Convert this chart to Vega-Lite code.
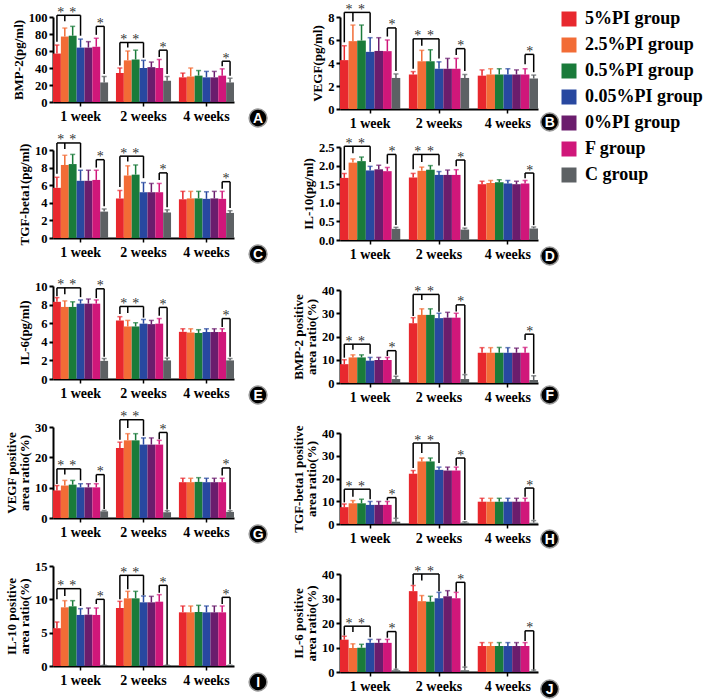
{
"$schema": "https://vega.github.io/schema/vega-lite/v6.json",
"padding": {"left": 5, "top": 2, "right": 2, "bottom": 2},
"datasets": {"d": [
{"p":"A","k":"b","s":"1-1","g":"5%PI group","m":57,"e":67},
{"p":"A","k":"b","s":"1-2","g":"2.5%PI group","m":77,"e":87},
{"p":"A","k":"b","s":"1-3","g":"0.5%PI group","m":78,"e":89},
{"p":"A","k":"b","s":"1-4","g":"0.05%PI group","m":64,"e":74},
{"p":"A","k":"b","s":"1-5","g":"0%PI group","m":64,"e":71},
{"p":"A","k":"b","s":"1-6","g":"F group","m":65,"e":75},
{"p":"A","k":"b","s":"1-7","g":"C group","m":23,"e":30},
{"p":"A","k":"b","s":"2-1","g":"5%PI group","m":34,"e":40},
{"p":"A","k":"b","s":"2-2","g":"2.5%PI group","m":49,"e":60},
{"p":"A","k":"b","s":"2-3","g":"0.5%PI group","m":50,"e":61},
{"p":"A","k":"b","s":"2-4","g":"0.05%PI group","m":40,"e":49},
{"p":"A","k":"b","s":"2-5","g":"0%PI group","m":41,"e":47},
{"p":"A","k":"b","s":"2-6","g":"F group","m":40,"e":50},
{"p":"A","k":"b","s":"2-7","g":"C group","m":25,"e":30},
{"p":"A","k":"b","s":"4-1","g":"5%PI group","m":29,"e":34},
{"p":"A","k":"b","s":"4-2","g":"2.5%PI group","m":30,"e":40},
{"p":"A","k":"b","s":"4-3","g":"0.5%PI group","m":31,"e":37},
{"p":"A","k":"b","s":"4-4","g":"0.05%PI group","m":29,"e":36},
{"p":"A","k":"b","s":"4-5","g":"0%PI group","m":29,"e":36},
{"p":"A","k":"b","s":"4-6","g":"F group","m":31,"e":39},
{"p":"A","k":"b","s":"4-7","g":"C group","m":23,"e":28},
{"p":"A","k":"h","s":"1-1","s2":"1-4","m":102},
{"p":"A","k":"h","s":"1-6","s2":"1-7","m":89},
{"p":"A","k":"h","s":"2-1","s2":"2-4","m":70},
{"p":"A","k":"h","s":"2-6","s2":"2-7","m":61},
{"p":"A","k":"h","s":"4-6","s2":"4-7","m":48},
{"p":"A","k":"v","s":"1-1","m":71,"e":102},
{"p":"A","k":"v","s":"1-2","m":95,"e":102},
{"p":"A","k":"v","s":"1-4","m":78,"e":102},
{"p":"A","k":"v","s":"1-6","m":79,"e":89},
{"p":"A","k":"v","s":"1-7","m":33,"e":89},
{"p":"A","k":"v","s":"2-1","m":43,"e":70},
{"p":"A","k":"v","s":"2-2","m":64,"e":70},
{"p":"A","k":"v","s":"2-4","m":52,"e":70},
{"p":"A","k":"v","s":"2-6","m":53,"e":61},
{"p":"A","k":"v","s":"2-7","m":33,"e":61},
{"p":"A","k":"v","s":"4-6","m":42,"e":48},
{"p":"A","k":"v","s":"4-7","m":31,"e":48},
{"p":"A","k":"sh","s":"1-2","m":102},
{"p":"A","k":"sc","s":"1-3","m":102},
{"p":"A","k":"sh","s":"1-7","m":89},
{"p":"A","k":"sh","s":"2-2","m":70},
{"p":"A","k":"sc","s":"2-3","m":70},
{"p":"A","k":"sh","s":"2-7","m":61},
{"p":"A","k":"sh","s":"4-7","m":48},
{"p":"A","k":"L","t":"A"},

{"p":"B","k":"b","s":"1-1","g":"5%PI group","m":4.25,"e":5.5},
{"p":"B","k":"b","s":"1-2","g":"2.5%PI group","m":5.9,"e":7.3},
{"p":"B","k":"b","s":"1-3","g":"0.5%PI group","m":5.95,"e":7.3},
{"p":"B","k":"b","s":"1-4","g":"0.05%PI group","m":4.97,"e":6.2},
{"p":"B","k":"b","s":"1-5","g":"0%PI group","m":5.05,"e":6.2},
{"p":"B","k":"b","s":"1-6","g":"F group","m":5.03,"e":6.0},
{"p":"B","k":"b","s":"1-7","g":"C group","m":2.7,"e":3.05},
{"p":"B","k":"b","s":"2-1","g":"5%PI group","m":3.0,"e":3.25},
{"p":"B","k":"b","s":"2-2","g":"2.5%PI group","m":4.15,"e":5.1},
{"p":"B","k":"b","s":"2-3","g":"0.5%PI group","m":4.15,"e":5.15},
{"p":"B","k":"b","s":"2-4","g":"0.05%PI group","m":3.5,"e":4.1},
{"p":"B","k":"b","s":"2-5","g":"0%PI group","m":3.5,"e":4.4},
{"p":"B","k":"b","s":"2-6","g":"F group","m":3.5,"e":4.4},
{"p":"B","k":"b","s":"2-7","g":"C group","m":2.7,"e":3.0},
{"p":"B","k":"b","s":"4-1","g":"5%PI group","m":2.9,"e":3.4},
{"p":"B","k":"b","s":"4-2","g":"2.5%PI group","m":3.0,"e":3.5},
{"p":"B","k":"b","s":"4-3","g":"0.5%PI group","m":3.0,"e":3.5},
{"p":"B","k":"b","s":"4-4","g":"0.05%PI group","m":3.0,"e":3.5},
{"p":"B","k":"b","s":"4-5","g":"0%PI group","m":3.0,"e":3.4},
{"p":"B","k":"b","s":"4-6","g":"F group","m":3.0,"e":3.5},
{"p":"B","k":"b","s":"4-7","g":"C group","m":2.65,"e":2.95},
{"p":"B","k":"h","s":"1-1","s2":"1-4","m":8.4},
{"p":"B","k":"h","s":"1-6","s2":"1-7","m":7.05},
{"p":"B","k":"h","s":"2-1","s2":"2-4","m":6.1},
{"p":"B","k":"h","s":"2-6","s2":"2-7","m":5.25},
{"p":"B","k":"h","s":"4-6","s2":"4-7","m":4.75},
{"p":"B","k":"v","s":"1-1","m":5.8,"e":8.4},
{"p":"B","k":"v","s":"1-2","m":7.6,"e":8.4},
{"p":"B","k":"v","s":"1-4","m":6.6,"e":8.4},
{"p":"B","k":"v","s":"1-6","m":6.3,"e":7.05},
{"p":"B","k":"v","s":"1-7","m":3.3,"e":7.05},
{"p":"B","k":"v","s":"2-1","m":3.5,"e":6.1},
{"p":"B","k":"v","s":"2-2","m":5.5,"e":6.1},
{"p":"B","k":"v","s":"2-4","m":4.4,"e":6.1},
{"p":"B","k":"v","s":"2-6","m":4.7,"e":5.25},
{"p":"B","k":"v","s":"2-7","m":3.3,"e":5.25},
{"p":"B","k":"v","s":"4-6","m":3.9,"e":4.75},
{"p":"B","k":"v","s":"4-7","m":3.2,"e":4.75},
{"p":"B","k":"sh","s":"1-2","m":8.4},
{"p":"B","k":"sc","s":"1-3","m":8.4},
{"p":"B","k":"sh","s":"1-7","m":7.05},
{"p":"B","k":"sh","s":"2-2","m":6.1},
{"p":"B","k":"sc","s":"2-3","m":6.1},
{"p":"B","k":"sh","s":"2-7","m":5.25},
{"p":"B","k":"sh","s":"4-7","m":4.75},
{"p":"B","k":"L","t":"B"},

{"p":"C","k":"b","s":"1-1","g":"5%PI group","m":5.7,"e":6.9},
{"p":"C","k":"b","s":"1-2","g":"2.5%PI group","m":8.3,"e":9.4},
{"p":"C","k":"b","s":"1-3","g":"0.5%PI group","m":8.4,"e":9.5},
{"p":"C","k":"b","s":"1-4","g":"0.05%PI group","m":6.5,"e":7.7},
{"p":"C","k":"b","s":"1-5","g":"0%PI group","m":6.5,"e":7.7},
{"p":"C","k":"b","s":"1-6","g":"F group","m":6.6,"e":7.7},
{"p":"C","k":"b","s":"1-7","g":"C group","m":3.0,"e":3.3},
{"p":"C","k":"b","s":"2-1","g":"5%PI group","m":4.5,"e":5.4},
{"p":"C","k":"b","s":"2-2","g":"2.5%PI group","m":7.1,"e":8.2},
{"p":"C","k":"b","s":"2-3","g":"0.5%PI group","m":7.2,"e":8.3},
{"p":"C","k":"b","s":"2-4","g":"0.05%PI group","m":5.2,"e":6.3},
{"p":"C","k":"b","s":"2-5","g":"0%PI group","m":5.2,"e":6.2},
{"p":"C","k":"b","s":"2-6","g":"F group","m":5.2,"e":6.2},
{"p":"C","k":"b","s":"2-7","g":"C group","m":2.9,"e":3.2},
{"p":"C","k":"b","s":"4-1","g":"5%PI group","m":4.4,"e":5.3},
{"p":"C","k":"b","s":"4-2","g":"2.5%PI group","m":4.5,"e":5.3},
{"p":"C","k":"b","s":"4-3","g":"0.5%PI group","m":4.5,"e":5.3},
{"p":"C","k":"b","s":"4-4","g":"0.05%PI group","m":4.45,"e":5.25},
{"p":"C","k":"b","s":"4-5","g":"0%PI group","m":4.5,"e":5.3},
{"p":"C","k":"b","s":"4-6","g":"F group","m":4.45,"e":5.3},
{"p":"C","k":"b","s":"4-7","g":"C group","m":2.85,"e":3.1},
{"p":"C","k":"h","s":"1-1","s2":"1-4","m":10.8},
{"p":"C","k":"h","s":"1-6","s2":"1-7","m":8.9},
{"p":"C","k":"h","s":"2-1","s2":"2-4","m":9.3},
{"p":"C","k":"h","s":"2-6","s2":"2-7","m":7.4},
{"p":"C","k":"h","s":"4-6","s2":"4-7","m":6.4},
{"p":"C","k":"v","s":"1-1","m":7.3,"e":10.8},
{"p":"C","k":"v","s":"1-2","m":10.1,"e":10.8},
{"p":"C","k":"v","s":"1-4","m":8.0,"e":10.8},
{"p":"C","k":"v","s":"1-6","m":8.0,"e":8.9},
{"p":"C","k":"v","s":"1-7","m":3.6,"e":8.9},
{"p":"C","k":"v","s":"2-1","m":5.8,"e":9.3},
{"p":"C","k":"v","s":"2-2","m":8.7,"e":9.3},
{"p":"C","k":"v","s":"2-4","m":6.8,"e":9.3},
{"p":"C","k":"v","s":"2-6","m":6.6,"e":7.4},
{"p":"C","k":"v","s":"2-7","m":3.5,"e":7.4},
{"p":"C","k":"v","s":"4-6","m":5.6,"e":6.4},
{"p":"C","k":"v","s":"4-7","m":3.4,"e":6.4},
{"p":"C","k":"sh","s":"1-2","m":10.8},
{"p":"C","k":"sc","s":"1-3","m":10.8},
{"p":"C","k":"sh","s":"1-7","m":8.9},
{"p":"C","k":"sh","s":"2-2","m":9.3},
{"p":"C","k":"sc","s":"2-3","m":9.3},
{"p":"C","k":"sh","s":"2-7","m":7.4},
{"p":"C","k":"sh","s":"4-7","m":6.4},
{"p":"C","k":"L","t":"C"},

{"p":"D","k":"b","s":"1-1","g":"5%PI group","m":1.67,"e":1.79},
{"p":"D","k":"b","s":"1-2","g":"2.5%PI group","m":2.08,"e":2.18},
{"p":"D","k":"b","s":"1-3","g":"0.5%PI group","m":2.12,"e":2.23},
{"p":"D","k":"b","s":"1-4","g":"0.05%PI group","m":1.87,"e":1.98},
{"p":"D","k":"b","s":"1-5","g":"0%PI group","m":1.9,"e":2.01},
{"p":"D","k":"b","s":"1-6","g":"F group","m":1.85,"e":1.95},
{"p":"D","k":"b","s":"1-7","g":"C group","m":0.3,"e":0.34},
{"p":"D","k":"b","s":"2-1","g":"5%PI group","m":1.68,"e":1.79},
{"p":"D","k":"b","s":"2-2","g":"2.5%PI group","m":1.86,"e":1.96},
{"p":"D","k":"b","s":"2-3","g":"0.5%PI group","m":1.89,"e":2.0},
{"p":"D","k":"b","s":"2-4","g":"0.05%PI group","m":1.75,"e":1.84},
{"p":"D","k":"b","s":"2-5","g":"0%PI group","m":1.75,"e":1.88},
{"p":"D","k":"b","s":"2-6","g":"F group","m":1.75,"e":1.89},
{"p":"D","k":"b","s":"2-7","g":"C group","m":0.28,"e":0.32},
{"p":"D","k":"b","s":"4-1","g":"5%PI group","m":1.5,"e":1.58},
{"p":"D","k":"b","s":"4-2","g":"2.5%PI group","m":1.53,"e":1.6},
{"p":"D","k":"b","s":"4-3","g":"0.5%PI group","m":1.55,"e":1.62},
{"p":"D","k":"b","s":"4-4","g":"0.05%PI group","m":1.52,"e":1.6},
{"p":"D","k":"b","s":"4-5","g":"0%PI group","m":1.5,"e":1.58},
{"p":"D","k":"b","s":"4-6","g":"F group","m":1.52,"e":1.6},
{"p":"D","k":"b","s":"4-7","g":"C group","m":0.31,"e":0.35},
{"p":"D","k":"h","s":"1-1","s2":"1-4","m":2.52},
{"p":"D","k":"h","s":"1-6","s2":"1-7","m":2.3},
{"p":"D","k":"h","s":"2-1","s2":"2-4","m":2.3},
{"p":"D","k":"h","s":"2-6","s2":"2-7","m":2.15},
{"p":"D","k":"h","s":"4-6","s2":"4-7","m":1.8},
{"p":"D","k":"v","s":"1-1","m":1.88,"e":2.52},
{"p":"D","k":"v","s":"1-2","m":2.33,"e":2.52},
{"p":"D","k":"v","s":"1-4","m":2.1,"e":2.52},
{"p":"D","k":"v","s":"1-6","m":2.05,"e":2.3},
{"p":"D","k":"v","s":"1-7","m":0.4,"e":2.3},
{"p":"D","k":"v","s":"2-1","m":1.9,"e":2.3},
{"p":"D","k":"v","s":"2-2","m":2.1,"e":2.3},
{"p":"D","k":"v","s":"2-4","m":2.0,"e":2.3},
{"p":"D","k":"v","s":"2-6","m":1.98,"e":2.15},
{"p":"D","k":"v","s":"2-7","m":0.38,"e":2.15},
{"p":"D","k":"v","s":"4-6","m":1.66,"e":1.8},
{"p":"D","k":"v","s":"4-7","m":0.4,"e":1.8},
{"p":"D","k":"sh","s":"1-2","m":2.52},
{"p":"D","k":"sc","s":"1-3","m":2.52},
{"p":"D","k":"sh","s":"1-7","m":2.3},
{"p":"D","k":"sh","s":"2-2","m":2.3},
{"p":"D","k":"sc","s":"2-3","m":2.3},
{"p":"D","k":"sh","s":"2-7","m":2.15},
{"p":"D","k":"sh","s":"4-7","m":1.8},
{"p":"D","k":"L","t":"D"},

{"p":"E","k":"b","s":"1-1","g":"5%PI group","m":8.3,"e":8.75},
{"p":"E","k":"b","s":"1-2","g":"2.5%PI group","m":7.75,"e":8.4},
{"p":"E","k":"b","s":"1-3","g":"0.5%PI group","m":7.75,"e":8.3},
{"p":"E","k":"b","s":"1-4","g":"0.05%PI group","m":8.1,"e":8.5},
{"p":"E","k":"b","s":"1-5","g":"0%PI group","m":8.1,"e":8.6},
{"p":"E","k":"b","s":"1-6","g":"F group","m":8.1,"e":8.5},
{"p":"E","k":"b","s":"1-7","g":"C group","m":1.95,"e":2.2},
{"p":"E","k":"b","s":"2-1","g":"5%PI group","m":6.3,"e":6.7},
{"p":"E","k":"b","s":"2-2","g":"2.5%PI group","m":5.65,"e":6.3},
{"p":"E","k":"b","s":"2-3","g":"0.5%PI group","m":5.65,"e":6.05},
{"p":"E","k":"b","s":"2-4","g":"0.05%PI group","m":5.95,"e":6.4},
{"p":"E","k":"b","s":"2-5","g":"0%PI group","m":5.9,"e":6.3},
{"p":"E","k":"b","s":"2-6","g":"F group","m":5.95,"e":6.5},
{"p":"E","k":"b","s":"2-7","g":"C group","m":2.0,"e":2.25},
{"p":"E","k":"b","s":"4-1","g":"5%PI group","m":5.07,"e":5.4},
{"p":"E","k":"b","s":"4-2","g":"2.5%PI group","m":5.0,"e":5.4},
{"p":"E","k":"b","s":"4-3","g":"0.5%PI group","m":4.95,"e":5.3},
{"p":"E","k":"b","s":"4-4","g":"0.05%PI group","m":5.05,"e":5.4},
{"p":"E","k":"b","s":"4-5","g":"0%PI group","m":5.05,"e":5.4},
{"p":"E","k":"b","s":"4-6","g":"F group","m":5.05,"e":5.4},
{"p":"E","k":"b","s":"4-7","g":"C group","m":2.0,"e":2.2},
{"p":"E","k":"h","s":"1-1","s2":"1-4","m":9.8},
{"p":"E","k":"h","s":"1-6","s2":"1-7","m":9.7},
{"p":"E","k":"h","s":"2-1","s2":"2-4","m":7.8},
{"p":"E","k":"h","s":"2-6","s2":"2-7","m":7.7},
{"p":"E","k":"h","s":"4-6","s2":"4-7","m":6.5},
{"p":"E","k":"v","s":"1-1","m":8.9,"e":9.8},
{"p":"E","k":"v","s":"1-2","m":9.1,"e":9.8},
{"p":"E","k":"v","s":"1-4","m":8.8,"e":9.8},
{"p":"E","k":"v","s":"1-6","m":8.7,"e":9.7},
{"p":"E","k":"v","s":"1-7","m":2.4,"e":9.7},
{"p":"E","k":"v","s":"2-1","m":7.0,"e":7.8},
{"p":"E","k":"v","s":"2-2","m":7.1,"e":7.8},
{"p":"E","k":"v","s":"2-4","m":6.6,"e":7.8},
{"p":"E","k":"v","s":"2-6","m":6.8,"e":7.7},
{"p":"E","k":"v","s":"2-7","m":2.4,"e":7.7},
{"p":"E","k":"v","s":"4-6","m":5.6,"e":6.5},
{"p":"E","k":"v","s":"4-7","m":2.4,"e":6.5},
{"p":"E","k":"sh","s":"1-2","m":9.8},
{"p":"E","k":"sc","s":"1-3","m":9.8},
{"p":"E","k":"sh","s":"1-7","m":9.7},
{"p":"E","k":"sh","s":"2-2","m":7.8},
{"p":"E","k":"sc","s":"2-3","m":7.8},
{"p":"E","k":"sh","s":"2-7","m":7.7},
{"p":"E","k":"sh","s":"4-7","m":6.5},
{"p":"E","k":"L","t":"E"},

{"p":"F","k":"b","s":"1-1","g":"5%PI group","m":8.1,"e":10},
{"p":"F","k":"b","s":"1-2","g":"2.5%PI group","m":11,"e":12.1},
{"p":"F","k":"b","s":"1-3","g":"0.5%PI group","m":11,"e":12.1},
{"p":"F","k":"b","s":"1-4","g":"0.05%PI group","m":9.6,"e":11},
{"p":"F","k":"b","s":"1-5","g":"0%PI group","m":9.9,"e":11},
{"p":"F","k":"b","s":"1-6","g":"F group","m":9.9,"e":11},
{"p":"F","k":"b","s":"1-7","g":"C group","m":1.7,"e":2.9},
{"p":"F","k":"b","s":"2-1","g":"5%PI group","m":25.7,"e":28.1},
{"p":"F","k":"b","s":"2-2","g":"2.5%PI group","m":29.3,"e":31.9},
{"p":"F","k":"b","s":"2-3","g":"0.5%PI group","m":29.3,"e":31.9},
{"p":"F","k":"b","s":"2-4","g":"0.05%PI group","m":27.9,"e":30},
{"p":"F","k":"b","s":"2-5","g":"0%PI group","m":28.1,"e":30.4},
{"p":"F","k":"b","s":"2-6","g":"F group","m":28.1,"e":30},
{"p":"F","k":"b","s":"2-7","g":"C group","m":1.7,"e":3.6},
{"p":"F","k":"b","s":"4-1","g":"5%PI group","m":13,"e":15.2},
{"p":"F","k":"b","s":"4-2","g":"2.5%PI group","m":13,"e":15.2},
{"p":"F","k":"b","s":"4-3","g":"0.5%PI group","m":13,"e":15.3},
{"p":"F","k":"b","s":"4-4","g":"0.05%PI group","m":13,"e":15.2},
{"p":"F","k":"b","s":"4-5","g":"0%PI group","m":13,"e":15},
{"p":"F","k":"b","s":"4-6","g":"F group","m":13,"e":15.3},
{"p":"F","k":"b","s":"4-7","g":"C group","m":1.3,"e":3.1},
{"p":"F","k":"h","s":"1-1","s2":"1-4","m":16.7},
{"p":"F","k":"h","s":"1-6","s2":"1-7","m":13.9},
{"p":"F","k":"h","s":"2-1","s2":"2-4","m":38.1},
{"p":"F","k":"h","s":"2-6","s2":"2-7","m":33.6},
{"p":"F","k":"h","s":"4-6","s2":"4-7","m":21},
{"p":"F","k":"v","s":"1-1","m":10.9,"e":16.7},
{"p":"F","k":"v","s":"1-2","m":14.3,"e":16.7},
{"p":"F","k":"v","s":"1-4","m":12.6,"e":16.7},
{"p":"F","k":"v","s":"1-6","m":11.6,"e":13.9},
{"p":"F","k":"v","s":"1-7","m":3.5,"e":13.9},
{"p":"F","k":"v","s":"2-1","m":28.8,"e":38.1},
{"p":"F","k":"v","s":"2-2","m":35.7,"e":38.1},
{"p":"F","k":"v","s":"2-4","m":30.6,"e":38.1},
{"p":"F","k":"v","s":"2-6","m":30.8,"e":33.6},
{"p":"F","k":"v","s":"2-7","m":4.0,"e":33.6},
{"p":"F","k":"v","s":"4-6","m":18.5,"e":21},
{"p":"F","k":"v","s":"4-7","m":4.0,"e":21},
{"p":"F","k":"sh","s":"1-2","m":16.7},
{"p":"F","k":"sc","s":"1-3","m":16.7},
{"p":"F","k":"sh","s":"1-7","m":13.9},
{"p":"F","k":"sh","s":"2-2","m":38.1},
{"p":"F","k":"sc","s":"2-3","m":38.1},
{"p":"F","k":"sh","s":"2-7","m":33.6},
{"p":"F","k":"sh","s":"4-7","m":21},
{"p":"F","k":"L","t":"F"},

{"p":"G","k":"b","s":"1-1","g":"5%PI group","m":9.1,"e":10.7},
{"p":"G","k":"b","s":"1-2","g":"2.5%PI group","m":10.7,"e":12.4},
{"p":"G","k":"b","s":"1-3","g":"0.5%PI group","m":11,"e":12.4},
{"p":"G","k":"b","s":"1-4","g":"0.05%PI group","m":10.1,"e":11.3},
{"p":"G","k":"b","s":"1-5","g":"0%PI group","m":10.1,"e":11.3},
{"p":"G","k":"b","s":"1-6","g":"F group","m":10.1,"e":11.3},
{"p":"G","k":"b","s":"1-7","g":"C group","m":2.2,"e":2.5},
{"p":"G","k":"b","s":"2-1","g":"5%PI group","m":23.1,"e":25},
{"p":"G","k":"b","s":"2-2","g":"2.5%PI group","m":25.6,"e":27.8},
{"p":"G","k":"b","s":"2-3","g":"0.5%PI group","m":25.6,"e":27.8},
{"p":"G","k":"b","s":"2-4","g":"0.05%PI group","m":24.2,"e":26.4},
{"p":"G","k":"b","s":"2-5","g":"0%PI group","m":24.2,"e":26.4},
{"p":"G","k":"b","s":"2-6","g":"F group","m":24.2,"e":25.6},
{"p":"G","k":"b","s":"2-7","g":"C group","m":1.9,"e":2.4},
{"p":"G","k":"b","s":"4-1","g":"5%PI group","m":11.8,"e":13.1},
{"p":"G","k":"b","s":"4-2","g":"2.5%PI group","m":11.8,"e":13.1},
{"p":"G","k":"b","s":"4-3","g":"0.5%PI group","m":11.9,"e":13.3},
{"p":"G","k":"b","s":"4-4","g":"0.05%PI group","m":11.8,"e":13.1},
{"p":"G","k":"b","s":"4-5","g":"0%PI group","m":11.8,"e":13.1},
{"p":"G","k":"b","s":"4-6","g":"F group","m":11.8,"e":13.1},
{"p":"G","k":"b","s":"4-7","g":"C group","m":2.0,"e":2.4},
{"p":"G","k":"h","s":"1-1","s2":"1-4","m":16.2},
{"p":"G","k":"h","s":"1-6","s2":"1-7","m":14.3},
{"p":"G","k":"h","s":"2-1","s2":"2-4","m":32.4},
{"p":"G","k":"h","s":"2-6","s2":"2-7","m":28.2},
{"p":"G","k":"h","s":"4-6","s2":"4-7","m":16.5},
{"p":"G","k":"v","s":"1-1","m":11.2,"e":16.2},
{"p":"G","k":"v","s":"1-2","m":14.3,"e":16.2},
{"p":"G","k":"v","s":"1-4","m":12.4,"e":16.2},
{"p":"G","k":"v","s":"1-6","m":11.8,"e":14.3},
{"p":"G","k":"v","s":"1-7","m":3.0,"e":14.3},
{"p":"G","k":"v","s":"2-1","m":25.8,"e":32.4},
{"p":"G","k":"v","s":"2-2","m":29.7,"e":32.4},
{"p":"G","k":"v","s":"2-4","m":27.1,"e":32.4},
{"p":"G","k":"v","s":"2-6","m":26,"e":28.2},
{"p":"G","k":"v","s":"2-7","m":2.8,"e":28.2},
{"p":"G","k":"v","s":"4-6","m":14,"e":16.5},
{"p":"G","k":"v","s":"4-7","m":2.8,"e":16.5},
{"p":"G","k":"sh","s":"1-2","m":16.2},
{"p":"G","k":"sc","s":"1-3","m":16.2},
{"p":"G","k":"sh","s":"1-7","m":14.3},
{"p":"G","k":"sh","s":"2-2","m":32.4},
{"p":"G","k":"sc","s":"2-3","m":32.4},
{"p":"G","k":"sh","s":"2-7","m":28.2},
{"p":"G","k":"sh","s":"4-7","m":16.5},
{"p":"G","k":"L","t":"G"},

{"p":"H","k":"b","s":"1-1","g":"5%PI group","m":7.4,"e":8.8},
{"p":"H","k":"b","s":"1-2","g":"2.5%PI group","m":9.1,"e":10.3},
{"p":"H","k":"b","s":"1-3","g":"0.5%PI group","m":9.1,"e":10.9},
{"p":"H","k":"b","s":"1-4","g":"0.05%PI group","m":8.4,"e":9.9},
{"p":"H","k":"b","s":"1-5","g":"0%PI group","m":8.4,"e":9.9},
{"p":"H","k":"b","s":"1-6","g":"F group","m":8.4,"e":9.9},
{"p":"H","k":"b","s":"1-7","g":"C group","m":1.0,"e":2.5},
{"p":"H","k":"b","s":"2-1","g":"5%PI group","m":22.1,"e":23.5},
{"p":"H","k":"b","s":"2-2","g":"2.5%PI group","m":27.5,"e":29},
{"p":"H","k":"b","s":"2-3","g":"0.5%PI group","m":27.5,"e":29},
{"p":"H","k":"b","s":"2-4","g":"0.05%PI group","m":23.8,"e":25},
{"p":"H","k":"b","s":"2-5","g":"0%PI group","m":23.5,"e":25},
{"p":"H","k":"b","s":"2-6","g":"F group","m":23.5,"e":25},
{"p":"H","k":"b","s":"2-7","g":"C group","m":0.6,"e":1.0},
{"p":"H","k":"b","s":"4-1","g":"5%PI group","m":9.8,"e":11.3},
{"p":"H","k":"b","s":"4-2","g":"2.5%PI group","m":9.8,"e":11.3},
{"p":"H","k":"b","s":"4-3","g":"0.5%PI group","m":9.8,"e":11.3},
{"p":"H","k":"b","s":"4-4","g":"0.05%PI group","m":9.8,"e":11.3},
{"p":"H","k":"b","s":"4-5","g":"0%PI group","m":9.8,"e":11.3},
{"p":"H","k":"b","s":"4-6","g":"F group","m":9.8,"e":11.3},
{"p":"H","k":"b","s":"4-7","g":"C group","m":0.6,"e":1.5},
{"p":"H","k":"h","s":"1-1","s2":"1-4","m":15.3},
{"p":"H","k":"h","s":"1-6","s2":"1-7","m":11.6},
{"p":"H","k":"h","s":"2-1","s2":"2-4","m":35.6},
{"p":"H","k":"h","s":"2-6","s2":"2-7","m":29},
{"p":"H","k":"h","s":"4-6","s2":"4-7","m":15.8},
{"p":"H","k":"v","s":"1-1","m":9.5,"e":15.3},
{"p":"H","k":"v","s":"1-2","m":12,"e":15.3},
{"p":"H","k":"v","s":"1-4","m":10.9,"e":15.3},
{"p":"H","k":"v","s":"1-6","m":10.4,"e":11.6},
{"p":"H","k":"v","s":"1-7","m":2.8,"e":11.6},
{"p":"H","k":"v","s":"2-1","m":24.6,"e":35.6},
{"p":"H","k":"v","s":"2-2","m":31.2,"e":35.6},
{"p":"H","k":"v","s":"2-4","m":26.8,"e":35.6},
{"p":"H","k":"v","s":"2-6","m":25.6,"e":29},
{"p":"H","k":"v","s":"2-7","m":1.8,"e":29},
{"p":"H","k":"v","s":"4-6","m":12,"e":15.8},
{"p":"H","k":"v","s":"4-7","m":1.9,"e":15.8},
{"p":"H","k":"sh","s":"1-2","m":15.3},
{"p":"H","k":"sc","s":"1-3","m":15.3},
{"p":"H","k":"sh","s":"1-7","m":11.6},
{"p":"H","k":"sh","s":"2-2","m":35.6},
{"p":"H","k":"sc","s":"2-3","m":35.6},
{"p":"H","k":"sh","s":"2-7","m":29},
{"p":"H","k":"sh","s":"4-7","m":15.8},
{"p":"H","k":"L","t":"H"},

{"p":"I","k":"b","s":"1-1","g":"5%PI group","m":5.67,"e":6.6},
{"p":"I","k":"b","s":"1-2","g":"2.5%PI group","m":8.8,"e":9.8},
{"p":"I","k":"b","s":"1-3","g":"0.5%PI group","m":8.95,"e":9.8},
{"p":"I","k":"b","s":"1-4","g":"0.05%PI group","m":7.66,"e":8.6},
{"p":"I","k":"b","s":"1-5","g":"0%PI group","m":7.7,"e":8.7},
{"p":"I","k":"b","s":"1-6","g":"F group","m":7.66,"e":8.7},
{"p":"I","k":"b","s":"1-7","g":"C group","m":0.1,"e":0.12},
{"p":"I","k":"b","s":"2-1","g":"5%PI group","m":8.7,"e":9.7},
{"p":"I","k":"b","s":"2-2","g":"2.5%PI group","m":10.15,"e":11.2},
{"p":"I","k":"b","s":"2-3","g":"0.5%PI group","m":10.15,"e":11.2},
{"p":"I","k":"b","s":"2-4","g":"0.05%PI group","m":9.55,"e":10.5},
{"p":"I","k":"b","s":"2-5","g":"0%PI group","m":9.55,"e":10.45},
{"p":"I","k":"b","s":"2-6","g":"F group","m":9.65,"e":10.7},
{"p":"I","k":"b","s":"2-7","g":"C group","m":0.1,"e":0.12},
{"p":"I","k":"b","s":"4-1","g":"5%PI group","m":8.05,"e":9.0},
{"p":"I","k":"b","s":"4-2","g":"2.5%PI group","m":8.05,"e":9.0},
{"p":"I","k":"b","s":"4-3","g":"0.5%PI group","m":8.1,"e":9.1},
{"p":"I","k":"b","s":"4-4","g":"0.05%PI group","m":8.05,"e":9.0},
{"p":"I","k":"b","s":"4-5","g":"0%PI group","m":8.05,"e":9.0},
{"p":"I","k":"b","s":"4-6","g":"F group","m":8.05,"e":9.0},
{"p":"I","k":"b","s":"4-7","g":"C group","m":0.1,"e":0.12},
{"p":"I","k":"h","s":"1-1","s2":"1-4","m":11.6},
{"p":"I","k":"h","s":"1-6","s2":"1-7","m":10.0},
{"p":"I","k":"h","s":"2-1","s2":"2-4","m":13.6},
{"p":"I","k":"h","s":"2-6","s2":"2-7","m":12.1},
{"p":"I","k":"h","s":"4-6","s2":"4-7","m":10.3},
{"p":"I","k":"v","s":"1-1","m":10.0,"e":11.6},
{"p":"I","k":"v","s":"1-2","m":10.5,"e":11.6},
{"p":"I","k":"v","s":"1-4","m":9.0,"e":11.6},
{"p":"I","k":"v","s":"1-6","m":9.3,"e":10.0},
{"p":"I","k":"v","s":"1-7","m":0.2,"e":10.0},
{"p":"I","k":"v","s":"2-1","m":10.0,"e":13.6},
{"p":"I","k":"v","s":"2-2","m":11.5,"e":13.6},
{"p":"I","k":"v","s":"2-4","m":10.6,"e":13.6},
{"p":"I","k":"v","s":"2-6","m":11.0,"e":12.1},
{"p":"I","k":"v","s":"2-7","m":0.2,"e":12.1},
{"p":"I","k":"v","s":"4-6","m":9.3,"e":10.3},
{"p":"I","k":"v","s":"4-7","m":0.3,"e":10.3},
{"p":"I","k":"sh","s":"1-2","m":11.6},
{"p":"I","k":"sc","s":"1-3","m":11.6},
{"p":"I","k":"sh","s":"1-7","m":10.0},
{"p":"I","k":"sh","s":"2-2","m":13.6},
{"p":"I","k":"sc","s":"2-3","m":13.6},
{"p":"I","k":"sh","s":"2-7","m":12.1},
{"p":"I","k":"sh","s":"4-7","m":10.3},
{"p":"I","k":"L","t":"I"},

{"p":"J","k":"b","s":"1-1","g":"5%PI group","m":13.2,"e":14.6},
{"p":"J","k":"b","s":"1-2","g":"2.5%PI group","m":9.8,"e":11.5},
{"p":"J","k":"b","s":"1-3","g":"0.5%PI group","m":9.9,"e":11.3},
{"p":"J","k":"b","s":"1-4","g":"0.05%PI group","m":11.9,"e":13.3},
{"p":"J","k":"b","s":"1-5","g":"0%PI group","m":11.9,"e":13.3},
{"p":"J","k":"b","s":"1-6","g":"F group","m":11.9,"e":13.3},
{"p":"J","k":"b","s":"1-7","g":"C group","m":0.7,"e":1.1},
{"p":"J","k":"b","s":"2-1","g":"5%PI group","m":33,"e":35.3},
{"p":"J","k":"b","s":"2-2","g":"2.5%PI group","m":28.9,"e":31.2},
{"p":"J","k":"b","s":"2-3","g":"0.5%PI group","m":28.7,"e":30.9},
{"p":"J","k":"b","s":"2-4","g":"0.05%PI group","m":30.1,"e":32.5},
{"p":"J","k":"b","s":"2-5","g":"0%PI group","m":30.9,"e":33.2},
{"p":"J","k":"b","s":"2-6","g":"F group","m":30.1,"e":32.5},
{"p":"J","k":"b","s":"2-7","g":"C group","m":0.7,"e":2.0},
{"p":"J","k":"b","s":"4-1","g":"5%PI group","m":10.6,"e":12},
{"p":"J","k":"b","s":"4-2","g":"2.5%PI group","m":10.6,"e":12},
{"p":"J","k":"b","s":"4-3","g":"0.5%PI group","m":10.6,"e":12},
{"p":"J","k":"b","s":"4-4","g":"0.05%PI group","m":10.6,"e":12},
{"p":"J","k":"b","s":"4-5","g":"0%PI group","m":10.6,"e":12},
{"p":"J","k":"b","s":"4-6","g":"F group","m":10.6,"e":12},
{"p":"J","k":"b","s":"4-7","g":"C group","m":0.3,"e":0.8},
{"p":"J","k":"h","s":"1-1","s2":"1-4","m":18.7},
{"p":"J","k":"h","s":"1-6","s2":"1-7","m":16.5},
{"p":"J","k":"h","s":"2-1","s2":"2-4","m":40},
{"p":"J","k":"h","s":"2-6","s2":"2-7","m":36.6},
{"p":"J","k":"h","s":"4-6","s2":"4-7","m":16.8},
{"p":"J","k":"v","s":"1-1","m":14.9,"e":18.7},
{"p":"J","k":"v","s":"1-2","m":16.3,"e":18.7},
{"p":"J","k":"v","s":"1-4","m":14.2,"e":18.7},
{"p":"J","k":"v","s":"1-6","m":14,"e":16.5},
{"p":"J","k":"v","s":"1-7","m":1.4,"e":16.5},
{"p":"J","k":"v","s":"2-1","m":35.6,"e":40},
{"p":"J","k":"v","s":"2-2","m":37.3,"e":40},
{"p":"J","k":"v","s":"2-4","m":33,"e":40},
{"p":"J","k":"v","s":"2-6","m":32.8,"e":36.6},
{"p":"J","k":"v","s":"2-7","m":2.2,"e":36.6},
{"p":"J","k":"v","s":"4-6","m":12.7,"e":16.8},
{"p":"J","k":"v","s":"4-7","m":1.0,"e":16.8},
{"p":"J","k":"sh","s":"1-2","m":18.7},
{"p":"J","k":"sc","s":"1-3","m":18.7},
{"p":"J","k":"sh","s":"1-7","m":16.5},
{"p":"J","k":"sh","s":"2-2","m":40},
{"p":"J","k":"sc","s":"2-3","m":40},
{"p":"J","k":"sh","s":"2-7","m":36.6},
{"p":"J","k":"sh","s":"4-7","m":16.8},
{"p":"J","k":"L","t":"J"}
]},
"hconcat": [
{"vconcat": [
{"width":181,"height":85,"data":{"name":"d"},"transform":[{"filter":"datum.p=='A'"}],
"encoding":{"x":{"field":"s","type":"nominal","scale":{"domain":["1-1","1-2","1-3","1-4","1-5","1-6","1-7","g1","2-1","2-2","2-3","2-4","2-5","2-6","2-7","g2","4-1","4-2","4-3","4-4","4-5","4-6","4-7"],"paddingInner":0,"paddingOuter":0},"axis":{"values":["1-4","2-4","4-4"],"labelExpr":"datum.value=='1-4'?'1 week':datum.value=='2-4'?'2 weeks':'4 weeks'","title":null}}},
"layer":[
{"transform":[{"filter":"datum.k=='b'"}],"mark":{"type":"bar"},"encoding":{"y":{"field":"m","type":"quantitative","scale":{"domain":[0,100],"nice":false},"axis":{"values":[0,20,40,60,80,100],"tickCount":12,"format":"d","labelOverlap":false,"labelFontSize":12.5,"title":"BMP-2(pg/ml)"}},"color":{"field":"g","type":"nominal","scale":{"domain":["5%PI group","2.5%PI group","0.5%PI group","0.05%PI group","0%PI group","F group","C group"],"range":["#E8282E","#F26C36","#1A7B3A","#2848A0","#6B1D6D","#D0177A","#5D6164"]},"legend":{"orient":"none","legendX":507,"legendY":-7,"title":null,"symbolType":"square","symbolSize":225,"symbolStrokeWidth":0,"symbolOpacity":1,"labelFont":"Liberation Serif","labelFontSize":18,"labelFontWeight":"bold","labelColor":"#000","labelOffset":7,"rowPadding":8,"labelLimit":300}}}},
{"transform":[{"filter":"datum.k=='b'"}],"mark":{"type":"rule","strokeWidth":1.5},"encoding":{"y":{"field":"m","type":"quantitative"},"y2":{"field":"e"},"color":{"field":"g","type":"nominal","legend":null}}},
{"transform":[{"filter":"datum.k=='b'"}],"mark":{"type":"tick","thickness":1.5,"size":5},"encoding":{"y":{"field":"e","type":"quantitative"},"color":{"field":"g","type":"nominal","legend":null}}},
{"transform":[{"filter":"datum.k=='v'"}],"mark":{"type":"rule","strokeWidth":1.5},"encoding":{"y":{"field":"m","type":"quantitative"},"y2":{"field":"e"},"color":{"value":"#000"}}},
{"transform":[{"filter":"datum.k=='h'"}],"mark":{"type":"rule","strokeWidth":1.5},"encoding":{"x2":{"field":"s2"},"y":{"field":"m","type":"quantitative"},"color":{"value":"#000"}}},
{"transform":[{"filter":"datum.k=='sh'"}],"mark":{"type":"text","text":"*","dx":-4,"dy":1.5,"baseline":"alphabetic","fontSize":14,"font":"Liberation Serif"},"encoding":{"y":{"field":"m","type":"quantitative"},"color":{"value":"#333"}}},
{"transform":[{"filter":"datum.k=='sc'"}],"mark":{"type":"text","text":"*","dy":1.5,"baseline":"alphabetic","fontSize":14,"font":"Liberation Serif"},"encoding":{"y":{"field":"m","type":"quantitative"},"color":{"value":"#333"}}},
{"transform":[{"filter":"datum.k=='L'"}],"mark":{"type":"point","shape":"circle","filled":true,"stroke":"#999","strokeWidth":1.5,"size":320,"opacity":1,"xOffset":28,"yOffset":16},"encoding":{"x":{"datum":"4-7"},"y":{"datum":0},"color":{"value":"#000"}}},
{"transform":[{"filter":"datum.k=='L'"}],"mark":{"type":"text","font":"Liberation Sans","fontWeight":"bold","fontSize":14,"baseline":"middle","align":"center","xOffset":28,"yOffset":16.5},"encoding":{"x":{"datum":"4-7"},"y":{"datum":0},"text":{"field":"t"},"color":{"value":"#fff"}}}
]},
{"width":181,"height":88,"data":{"name":"d"},"transform":[{"filter":"datum.p=='C'"}],
"encoding":{"x":{"field":"s","type":"nominal","scale":{"domain":["1-1","1-2","1-3","1-4","1-5","1-6","1-7","g1","2-1","2-2","2-3","2-4","2-5","2-6","2-7","g2","4-1","4-2","4-3","4-4","4-5","4-6","4-7"],"paddingInner":0,"paddingOuter":0},"axis":{"values":["1-4","2-4","4-4"],"labelExpr":"datum.value=='1-4'?'1 week':datum.value=='2-4'?'2 weeks':'4 weeks'","title":null}}},
"layer":[
{"transform":[{"filter":"datum.k=='b'"}],"mark":{"type":"bar"},"encoding":{"y":{"field":"m","type":"quantitative","scale":{"domain":[0,10],"nice":false},"axis":{"values":[0,2,4,6,8,10],"tickCount":12,"format":"d","labelOverlap":false,"labelFontSize":12.5,"title":"TGF-beta1(pg/ml)"}},"color":{"field":"g","type":"nominal","scale":{"domain":["5%PI group","2.5%PI group","0.5%PI group","0.05%PI group","0%PI group","F group","C group"],"range":["#E8282E","#F26C36","#1A7B3A","#2848A0","#6B1D6D","#D0177A","#5D6164"]},"legend":null}}},
{"transform":[{"filter":"datum.k=='b'"}],"mark":{"type":"rule","strokeWidth":1.5},"encoding":{"y":{"field":"m","type":"quantitative"},"y2":{"field":"e"},"color":{"field":"g","type":"nominal","legend":null}}},
{"transform":[{"filter":"datum.k=='b'"}],"mark":{"type":"tick","thickness":1.5,"size":5},"encoding":{"y":{"field":"e","type":"quantitative"},"color":{"field":"g","type":"nominal","legend":null}}},
{"transform":[{"filter":"datum.k=='v'"}],"mark":{"type":"rule","strokeWidth":1.5},"encoding":{"y":{"field":"m","type":"quantitative"},"y2":{"field":"e"},"color":{"value":"#000"}}},
{"transform":[{"filter":"datum.k=='h'"}],"mark":{"type":"rule","strokeWidth":1.5},"encoding":{"x2":{"field":"s2"},"y":{"field":"m","type":"quantitative"},"color":{"value":"#000"}}},
{"transform":[{"filter":"datum.k=='sh'"}],"mark":{"type":"text","text":"*","dx":-4,"dy":1.5,"baseline":"alphabetic","fontSize":14,"font":"Liberation Serif"},"encoding":{"y":{"field":"m","type":"quantitative"},"color":{"value":"#333"}}},
{"transform":[{"filter":"datum.k=='sc'"}],"mark":{"type":"text","text":"*","dy":1.5,"baseline":"alphabetic","fontSize":14,"font":"Liberation Serif"},"encoding":{"y":{"field":"m","type":"quantitative"},"color":{"value":"#333"}}},
{"transform":[{"filter":"datum.k=='L'"}],"mark":{"type":"point","shape":"circle","filled":true,"stroke":"#999","strokeWidth":1.5,"size":320,"opacity":1,"xOffset":28,"yOffset":16},"encoding":{"x":{"datum":"4-7"},"y":{"datum":0},"color":{"value":"#000"}}},
{"transform":[{"filter":"datum.k=='L'"}],"mark":{"type":"text","font":"Liberation Sans","fontWeight":"bold","fontSize":14,"baseline":"middle","align":"center","xOffset":28,"yOffset":16.5},"encoding":{"x":{"datum":"4-7"},"y":{"datum":0},"text":{"field":"t"},"color":{"value":"#fff"}}}
]},
{"width":181,"height":93,"data":{"name":"d"},"transform":[{"filter":"datum.p=='E'"}],
"encoding":{"x":{"field":"s","type":"nominal","scale":{"domain":["1-1","1-2","1-3","1-4","1-5","1-6","1-7","g1","2-1","2-2","2-3","2-4","2-5","2-6","2-7","g2","4-1","4-2","4-3","4-4","4-5","4-6","4-7"],"paddingInner":0,"paddingOuter":0},"axis":{"values":["1-4","2-4","4-4"],"labelExpr":"datum.value=='1-4'?'1 week':datum.value=='2-4'?'2 weeks':'4 weeks'","title":null}}},
"layer":[
{"transform":[{"filter":"datum.k=='b'"}],"mark":{"type":"bar"},"encoding":{"y":{"field":"m","type":"quantitative","scale":{"domain":[0,10],"nice":false},"axis":{"values":[0,2,4,6,8,10],"tickCount":12,"format":"d","labelOverlap":false,"labelFontSize":12.5,"title":"IL-6(pg/ml)"}},"color":{"field":"g","type":"nominal","scale":{"domain":["5%PI group","2.5%PI group","0.5%PI group","0.05%PI group","0%PI group","F group","C group"],"range":["#E8282E","#F26C36","#1A7B3A","#2848A0","#6B1D6D","#D0177A","#5D6164"]},"legend":null}}},
{"transform":[{"filter":"datum.k=='b'"}],"mark":{"type":"rule","strokeWidth":1.5},"encoding":{"y":{"field":"m","type":"quantitative"},"y2":{"field":"e"},"color":{"field":"g","type":"nominal","legend":null}}},
{"transform":[{"filter":"datum.k=='b'"}],"mark":{"type":"tick","thickness":1.5,"size":5},"encoding":{"y":{"field":"e","type":"quantitative"},"color":{"field":"g","type":"nominal","legend":null}}},
{"transform":[{"filter":"datum.k=='v'"}],"mark":{"type":"rule","strokeWidth":1.5},"encoding":{"y":{"field":"m","type":"quantitative"},"y2":{"field":"e"},"color":{"value":"#000"}}},
{"transform":[{"filter":"datum.k=='h'"}],"mark":{"type":"rule","strokeWidth":1.5},"encoding":{"x2":{"field":"s2"},"y":{"field":"m","type":"quantitative"},"color":{"value":"#000"}}},
{"transform":[{"filter":"datum.k=='sh'"}],"mark":{"type":"text","text":"*","dx":-4,"dy":1.5,"baseline":"alphabetic","fontSize":14,"font":"Liberation Serif"},"encoding":{"y":{"field":"m","type":"quantitative"},"color":{"value":"#333"}}},
{"transform":[{"filter":"datum.k=='sc'"}],"mark":{"type":"text","text":"*","dy":1.5,"baseline":"alphabetic","fontSize":14,"font":"Liberation Serif"},"encoding":{"y":{"field":"m","type":"quantitative"},"color":{"value":"#333"}}},
{"transform":[{"filter":"datum.k=='L'"}],"mark":{"type":"point","shape":"circle","filled":true,"stroke":"#999","strokeWidth":1.5,"size":320,"opacity":1,"xOffset":28,"yOffset":16},"encoding":{"x":{"datum":"4-7"},"y":{"datum":0},"color":{"value":"#000"}}},
{"transform":[{"filter":"datum.k=='L'"}],"mark":{"type":"text","font":"Liberation Sans","fontWeight":"bold","fontSize":14,"baseline":"middle","align":"center","xOffset":28,"yOffset":16.5},"encoding":{"x":{"datum":"4-7"},"y":{"datum":0},"text":{"field":"t"},"color":{"value":"#fff"}}}
]},
{"width":181,"height":91,"data":{"name":"d"},"transform":[{"filter":"datum.p=='G'"}],
"encoding":{"x":{"field":"s","type":"nominal","scale":{"domain":["1-1","1-2","1-3","1-4","1-5","1-6","1-7","g1","2-1","2-2","2-3","2-4","2-5","2-6","2-7","g2","4-1","4-2","4-3","4-4","4-5","4-6","4-7"],"paddingInner":0,"paddingOuter":0},"axis":{"values":["1-4","2-4","4-4"],"labelExpr":"datum.value=='1-4'?'1 week':datum.value=='2-4'?'2 weeks':'4 weeks'","title":null}}},
"layer":[
{"transform":[{"filter":"datum.k=='b'"}],"mark":{"type":"bar"},"encoding":{"y":{"field":"m","type":"quantitative","scale":{"domain":[0,30],"nice":false},"axis":{"values":[0,10,20,30],"tickCount":12,"format":"d","labelOverlap":false,"labelFontSize":12.5,"title":["VEGF positive","area ratio(%)"]}},"color":{"field":"g","type":"nominal","scale":{"domain":["5%PI group","2.5%PI group","0.5%PI group","0.05%PI group","0%PI group","F group","C group"],"range":["#E8282E","#F26C36","#1A7B3A","#2848A0","#6B1D6D","#D0177A","#5D6164"]},"legend":null}}},
{"transform":[{"filter":"datum.k=='b'"}],"mark":{"type":"rule","strokeWidth":1.5},"encoding":{"y":{"field":"m","type":"quantitative"},"y2":{"field":"e"},"color":{"field":"g","type":"nominal","legend":null}}},
{"transform":[{"filter":"datum.k=='b'"}],"mark":{"type":"tick","thickness":1.5,"size":5},"encoding":{"y":{"field":"e","type":"quantitative"},"color":{"field":"g","type":"nominal","legend":null}}},
{"transform":[{"filter":"datum.k=='v'"}],"mark":{"type":"rule","strokeWidth":1.5},"encoding":{"y":{"field":"m","type":"quantitative"},"y2":{"field":"e"},"color":{"value":"#000"}}},
{"transform":[{"filter":"datum.k=='h'"}],"mark":{"type":"rule","strokeWidth":1.5},"encoding":{"x2":{"field":"s2"},"y":{"field":"m","type":"quantitative"},"color":{"value":"#000"}}},
{"transform":[{"filter":"datum.k=='sh'"}],"mark":{"type":"text","text":"*","dx":-4,"dy":1.5,"baseline":"alphabetic","fontSize":14,"font":"Liberation Serif"},"encoding":{"y":{"field":"m","type":"quantitative"},"color":{"value":"#333"}}},
{"transform":[{"filter":"datum.k=='sc'"}],"mark":{"type":"text","text":"*","dy":1.5,"baseline":"alphabetic","fontSize":14,"font":"Liberation Serif"},"encoding":{"y":{"field":"m","type":"quantitative"},"color":{"value":"#333"}}},
{"transform":[{"filter":"datum.k=='L'"}],"mark":{"type":"point","shape":"circle","filled":true,"stroke":"#999","strokeWidth":1.5,"size":320,"opacity":1,"xOffset":28,"yOffset":16},"encoding":{"x":{"datum":"4-7"},"y":{"datum":0},"color":{"value":"#000"}}},
{"transform":[{"filter":"datum.k=='L'"}],"mark":{"type":"text","font":"Liberation Sans","fontWeight":"bold","fontSize":14,"baseline":"middle","align":"center","xOffset":28,"yOffset":16.5},"encoding":{"x":{"datum":"4-7"},"y":{"datum":0},"text":{"field":"t"},"color":{"value":"#fff"}}}
]},
{"width":181,"height":100,"data":{"name":"d"},"transform":[{"filter":"datum.p=='I'"}],
"encoding":{"x":{"field":"s","type":"nominal","scale":{"domain":["1-1","1-2","1-3","1-4","1-5","1-6","1-7","g1","2-1","2-2","2-3","2-4","2-5","2-6","2-7","g2","4-1","4-2","4-3","4-4","4-5","4-6","4-7"],"paddingInner":0,"paddingOuter":0},"axis":{"values":["1-4","2-4","4-4"],"labelExpr":"datum.value=='1-4'?'1 week':datum.value=='2-4'?'2 weeks':'4 weeks'","title":null}}},
"layer":[
{"transform":[{"filter":"datum.k=='b'"}],"mark":{"type":"bar"},"encoding":{"y":{"field":"m","type":"quantitative","scale":{"domain":[0,15],"nice":false},"axis":{"values":[0,5,10,15],"tickCount":12,"format":"d","labelOverlap":false,"labelFontSize":12.5,"title":["IL-10 positive","area ratio(%)"]}},"color":{"field":"g","type":"nominal","scale":{"domain":["5%PI group","2.5%PI group","0.5%PI group","0.05%PI group","0%PI group","F group","C group"],"range":["#E8282E","#F26C36","#1A7B3A","#2848A0","#6B1D6D","#D0177A","#5D6164"]},"legend":null}}},
{"transform":[{"filter":"datum.k=='b'"}],"mark":{"type":"rule","strokeWidth":1.5},"encoding":{"y":{"field":"m","type":"quantitative"},"y2":{"field":"e"},"color":{"field":"g","type":"nominal","legend":null}}},
{"transform":[{"filter":"datum.k=='b'"}],"mark":{"type":"tick","thickness":1.5,"size":5},"encoding":{"y":{"field":"e","type":"quantitative"},"color":{"field":"g","type":"nominal","legend":null}}},
{"transform":[{"filter":"datum.k=='v'"}],"mark":{"type":"rule","strokeWidth":1.5},"encoding":{"y":{"field":"m","type":"quantitative"},"y2":{"field":"e"},"color":{"value":"#000"}}},
{"transform":[{"filter":"datum.k=='h'"}],"mark":{"type":"rule","strokeWidth":1.5},"encoding":{"x2":{"field":"s2"},"y":{"field":"m","type":"quantitative"},"color":{"value":"#000"}}},
{"transform":[{"filter":"datum.k=='sh'"}],"mark":{"type":"text","text":"*","dx":-4,"dy":1.5,"baseline":"alphabetic","fontSize":14,"font":"Liberation Serif"},"encoding":{"y":{"field":"m","type":"quantitative"},"color":{"value":"#333"}}},
{"transform":[{"filter":"datum.k=='sc'"}],"mark":{"type":"text","text":"*","dy":1.5,"baseline":"alphabetic","fontSize":14,"font":"Liberation Serif"},"encoding":{"y":{"field":"m","type":"quantitative"},"color":{"value":"#333"}}},
{"transform":[{"filter":"datum.k=='L'"}],"mark":{"type":"point","shape":"circle","filled":true,"stroke":"#999","strokeWidth":1.5,"size":320,"opacity":1,"xOffset":28,"yOffset":16},"encoding":{"x":{"datum":"4-7"},"y":{"datum":0},"color":{"value":"#000"}}},
{"transform":[{"filter":"datum.k=='L'"}],"mark":{"type":"text","font":"Liberation Sans","fontWeight":"bold","fontSize":14,"baseline":"middle","align":"center","xOffset":28,"yOffset":16.5},"encoding":{"x":{"datum":"4-7"},"y":{"datum":0},"text":{"field":"t"},"color":{"value":"#fff"}}}
]}
], "spacing": 48, "bounds": "flush"},
{"vconcat": [
{"width":198,"height":92,"data":{"name":"d"},"transform":[{"filter":"datum.p=='B'"}],
"encoding":{"x":{"field":"s","type":"nominal","scale":{"domain":["1-1","1-2","1-3","1-4","1-5","1-6","1-7","g1","2-1","2-2","2-3","2-4","2-5","2-6","2-7","g2","4-1","4-2","4-3","4-4","4-5","4-6","4-7"],"paddingInner":0,"paddingOuter":0},"axis":{"values":["1-4","2-4","4-4"],"labelExpr":"datum.value=='1-4'?'1 week':datum.value=='2-4'?'2 weeks':'4 weeks'","title":null}}},
"layer":[
{"transform":[{"filter":"datum.k=='b'"}],"mark":{"type":"bar"},"encoding":{"y":{"field":"m","type":"quantitative","scale":{"domain":[0,8],"nice":false},"axis":{"values":[0,2,4,6,8],"tickCount":12,"format":"d","labelOverlap":false,"labelFontSize":12.5,"title":"VEGF(pg/ml)"}},"color":{"field":"g","type":"nominal","scale":{"domain":["5%PI group","2.5%PI group","0.5%PI group","0.05%PI group","0%PI group","F group","C group"],"range":["#E8282E","#F26C36","#1A7B3A","#2848A0","#6B1D6D","#D0177A","#5D6164"]},"legend":null}}},
{"transform":[{"filter":"datum.k=='b'"}],"mark":{"type":"rule","strokeWidth":1.5},"encoding":{"y":{"field":"m","type":"quantitative"},"y2":{"field":"e"},"color":{"field":"g","type":"nominal","legend":null}}},
{"transform":[{"filter":"datum.k=='b'"}],"mark":{"type":"tick","thickness":1.5,"size":5},"encoding":{"y":{"field":"e","type":"quantitative"},"color":{"field":"g","type":"nominal","legend":null}}},
{"transform":[{"filter":"datum.k=='v'"}],"mark":{"type":"rule","strokeWidth":1.5},"encoding":{"y":{"field":"m","type":"quantitative"},"y2":{"field":"e"},"color":{"value":"#000"}}},
{"transform":[{"filter":"datum.k=='h'"}],"mark":{"type":"rule","strokeWidth":1.5},"encoding":{"x2":{"field":"s2"},"y":{"field":"m","type":"quantitative"},"color":{"value":"#000"}}},
{"transform":[{"filter":"datum.k=='sh'"}],"mark":{"type":"text","text":"*","dx":-4,"dy":1.5,"baseline":"alphabetic","fontSize":14,"font":"Liberation Serif"},"encoding":{"y":{"field":"m","type":"quantitative"},"color":{"value":"#333"}}},
{"transform":[{"filter":"datum.k=='sc'"}],"mark":{"type":"text","text":"*","dy":1.5,"baseline":"alphabetic","fontSize":14,"font":"Liberation Serif"},"encoding":{"y":{"field":"m","type":"quantitative"},"color":{"value":"#333"}}},
{"transform":[{"filter":"datum.k=='L'"}],"mark":{"type":"point","shape":"circle","filled":true,"stroke":"#999","strokeWidth":1.5,"size":320,"opacity":1,"xOffset":16,"yOffset":13},"encoding":{"x":{"datum":"4-7"},"y":{"datum":0},"color":{"value":"#000"}}},
{"transform":[{"filter":"datum.k=='L'"}],"mark":{"type":"text","font":"Liberation Sans","fontWeight":"bold","fontSize":14,"baseline":"middle","align":"center","xOffset":16,"yOffset":13.5},"encoding":{"x":{"datum":"4-7"},"y":{"datum":0},"text":{"field":"t"},"color":{"value":"#fff"}}}
]},
{"vconcat": [
{"width":198,"height":93,"data":{"name":"d"},"transform":[{"filter":"datum.p=='D'"}],
"encoding":{"x":{"field":"s","type":"nominal","scale":{"domain":["1-1","1-2","1-3","1-4","1-5","1-6","1-7","g1","2-1","2-2","2-3","2-4","2-5","2-6","2-7","g2","4-1","4-2","4-3","4-4","4-5","4-6","4-7"],"paddingInner":0,"paddingOuter":0},"axis":{"values":["1-4","2-4","4-4"],"labelExpr":"datum.value=='1-4'?'1 week':datum.value=='2-4'?'2 weeks':'4 weeks'","title":null}}},
"layer":[
{"transform":[{"filter":"datum.k=='b'"}],"mark":{"type":"bar"},"encoding":{"y":{"field":"m","type":"quantitative","scale":{"domain":[0,2.5],"nice":false},"axis":{"values":[0,0.5,1,1.5,2,2.5],"tickCount":12,"format":".1f","labelOverlap":false,"labelFontSize":12.5,"title":"IL-10(pg/ml)"}},"color":{"field":"g","type":"nominal","scale":{"domain":["5%PI group","2.5%PI group","0.5%PI group","0.05%PI group","0%PI group","F group","C group"],"range":["#E8282E","#F26C36","#1A7B3A","#2848A0","#6B1D6D","#D0177A","#5D6164"]},"legend":null}}},
{"transform":[{"filter":"datum.k=='b'"}],"mark":{"type":"rule","strokeWidth":1.5},"encoding":{"y":{"field":"m","type":"quantitative"},"y2":{"field":"e"},"color":{"field":"g","type":"nominal","legend":null}}},
{"transform":[{"filter":"datum.k=='b'"}],"mark":{"type":"tick","thickness":1.5,"size":5},"encoding":{"y":{"field":"e","type":"quantitative"},"color":{"field":"g","type":"nominal","legend":null}}},
{"transform":[{"filter":"datum.k=='v'"}],"mark":{"type":"rule","strokeWidth":1.5},"encoding":{"y":{"field":"m","type":"quantitative"},"y2":{"field":"e"},"color":{"value":"#000"}}},
{"transform":[{"filter":"datum.k=='h'"}],"mark":{"type":"rule","strokeWidth":1.5},"encoding":{"x2":{"field":"s2"},"y":{"field":"m","type":"quantitative"},"color":{"value":"#000"}}},
{"transform":[{"filter":"datum.k=='sh'"}],"mark":{"type":"text","text":"*","dx":-4,"dy":1.5,"baseline":"alphabetic","fontSize":14,"font":"Liberation Serif"},"encoding":{"y":{"field":"m","type":"quantitative"},"color":{"value":"#333"}}},
{"transform":[{"filter":"datum.k=='sc'"}],"mark":{"type":"text","text":"*","dy":1.5,"baseline":"alphabetic","fontSize":14,"font":"Liberation Serif"},"encoding":{"y":{"field":"m","type":"quantitative"},"color":{"value":"#333"}}},
{"transform":[{"filter":"datum.k=='L'"}],"mark":{"type":"point","shape":"circle","filled":true,"stroke":"#999","strokeWidth":1.5,"size":320,"opacity":1,"xOffset":16,"yOffset":16},"encoding":{"x":{"datum":"4-7"},"y":{"datum":0},"color":{"value":"#000"}}},
{"transform":[{"filter":"datum.k=='L'"}],"mark":{"type":"text","font":"Liberation Sans","fontWeight":"bold","fontSize":14,"baseline":"middle","align":"center","xOffset":16,"yOffset":16.5},"encoding":{"x":{"datum":"4-7"},"y":{"datum":0},"text":{"field":"t"},"color":{"value":"#fff"}}}
]},
{"width":198,"height":93,"data":{"name":"d"},"transform":[{"filter":"datum.p=='F'"}],
"encoding":{"x":{"field":"s","type":"nominal","scale":{"domain":["1-1","1-2","1-3","1-4","1-5","1-6","1-7","g1","2-1","2-2","2-3","2-4","2-5","2-6","2-7","g2","4-1","4-2","4-3","4-4","4-5","4-6","4-7"],"paddingInner":0,"paddingOuter":0},"axis":{"values":["1-4","2-4","4-4"],"labelExpr":"datum.value=='1-4'?'1 week':datum.value=='2-4'?'2 weeks':'4 weeks'","title":null}}},
"layer":[
{"transform":[{"filter":"datum.k=='b'"}],"mark":{"type":"bar"},"encoding":{"y":{"field":"m","type":"quantitative","scale":{"domain":[0,40],"nice":false},"axis":{"values":[0,10,20,30,40],"tickCount":12,"format":"d","labelOverlap":false,"labelFontSize":12.5,"title":["BMP-2 positive","area ratio(%)"]}},"color":{"field":"g","type":"nominal","scale":{"domain":["5%PI group","2.5%PI group","0.5%PI group","0.05%PI group","0%PI group","F group","C group"],"range":["#E8282E","#F26C36","#1A7B3A","#2848A0","#6B1D6D","#D0177A","#5D6164"]},"legend":null}}},
{"transform":[{"filter":"datum.k=='b'"}],"mark":{"type":"rule","strokeWidth":1.5},"encoding":{"y":{"field":"m","type":"quantitative"},"y2":{"field":"e"},"color":{"field":"g","type":"nominal","legend":null}}},
{"transform":[{"filter":"datum.k=='b'"}],"mark":{"type":"tick","thickness":1.5,"size":5},"encoding":{"y":{"field":"e","type":"quantitative"},"color":{"field":"g","type":"nominal","legend":null}}},
{"transform":[{"filter":"datum.k=='v'"}],"mark":{"type":"rule","strokeWidth":1.5},"encoding":{"y":{"field":"m","type":"quantitative"},"y2":{"field":"e"},"color":{"value":"#000"}}},
{"transform":[{"filter":"datum.k=='h'"}],"mark":{"type":"rule","strokeWidth":1.5},"encoding":{"x2":{"field":"s2"},"y":{"field":"m","type":"quantitative"},"color":{"value":"#000"}}},
{"transform":[{"filter":"datum.k=='sh'"}],"mark":{"type":"text","text":"*","dx":-4,"dy":1.5,"baseline":"alphabetic","fontSize":14,"font":"Liberation Serif"},"encoding":{"y":{"field":"m","type":"quantitative"},"color":{"value":"#333"}}},
{"transform":[{"filter":"datum.k=='sc'"}],"mark":{"type":"text","text":"*","dy":1.5,"baseline":"alphabetic","fontSize":14,"font":"Liberation Serif"},"encoding":{"y":{"field":"m","type":"quantitative"},"color":{"value":"#333"}}},
{"transform":[{"filter":"datum.k=='L'"}],"mark":{"type":"point","shape":"circle","filled":true,"stroke":"#999","strokeWidth":1.5,"size":320,"opacity":1,"xOffset":16,"yOffset":12},"encoding":{"x":{"datum":"4-7"},"y":{"datum":0},"color":{"value":"#000"}}},
{"transform":[{"filter":"datum.k=='L'"}],"mark":{"type":"text","font":"Liberation Sans","fontWeight":"bold","fontSize":14,"baseline":"middle","align":"center","xOffset":16,"yOffset":12.5},"encoding":{"x":{"datum":"4-7"},"y":{"datum":0},"text":{"field":"t"},"color":{"value":"#fff"}}}
]},
{"width":198,"height":91,"data":{"name":"d"},"transform":[{"filter":"datum.p=='H'"}],
"encoding":{"x":{"field":"s","type":"nominal","scale":{"domain":["1-1","1-2","1-3","1-4","1-5","1-6","1-7","g1","2-1","2-2","2-3","2-4","2-5","2-6","2-7","g2","4-1","4-2","4-3","4-4","4-5","4-6","4-7"],"paddingInner":0,"paddingOuter":0},"axis":{"values":["1-4","2-4","4-4"],"labelExpr":"datum.value=='1-4'?'1 week':datum.value=='2-4'?'2 weeks':'4 weeks'","title":null}}},
"layer":[
{"transform":[{"filter":"datum.k=='b'"}],"mark":{"type":"bar"},"encoding":{"y":{"field":"m","type":"quantitative","scale":{"domain":[0,40],"nice":false},"axis":{"values":[0,10,20,30,40],"tickCount":12,"format":"d","labelOverlap":false,"labelFontSize":12.5,"title":["TGF-beta1 positive","area ratio(%)"]}},"color":{"field":"g","type":"nominal","scale":{"domain":["5%PI group","2.5%PI group","0.5%PI group","0.05%PI group","0%PI group","F group","C group"],"range":["#E8282E","#F26C36","#1A7B3A","#2848A0","#6B1D6D","#D0177A","#5D6164"]},"legend":null}}},
{"transform":[{"filter":"datum.k=='b'"}],"mark":{"type":"rule","strokeWidth":1.5},"encoding":{"y":{"field":"m","type":"quantitative"},"y2":{"field":"e"},"color":{"field":"g","type":"nominal","legend":null}}},
{"transform":[{"filter":"datum.k=='b'"}],"mark":{"type":"tick","thickness":1.5,"size":5},"encoding":{"y":{"field":"e","type":"quantitative"},"color":{"field":"g","type":"nominal","legend":null}}},
{"transform":[{"filter":"datum.k=='v'"}],"mark":{"type":"rule","strokeWidth":1.5},"encoding":{"y":{"field":"m","type":"quantitative"},"y2":{"field":"e"},"color":{"value":"#000"}}},
{"transform":[{"filter":"datum.k=='h'"}],"mark":{"type":"rule","strokeWidth":1.5},"encoding":{"x2":{"field":"s2"},"y":{"field":"m","type":"quantitative"},"color":{"value":"#000"}}},
{"transform":[{"filter":"datum.k=='sh'"}],"mark":{"type":"text","text":"*","dx":-4,"dy":1.5,"baseline":"alphabetic","fontSize":14,"font":"Liberation Serif"},"encoding":{"y":{"field":"m","type":"quantitative"},"color":{"value":"#333"}}},
{"transform":[{"filter":"datum.k=='sc'"}],"mark":{"type":"text","text":"*","dy":1.5,"baseline":"alphabetic","fontSize":14,"font":"Liberation Serif"},"encoding":{"y":{"field":"m","type":"quantitative"},"color":{"value":"#333"}}},
{"transform":[{"filter":"datum.k=='L'"}],"mark":{"type":"point","shape":"circle","filled":true,"stroke":"#999","strokeWidth":1.5,"size":320,"opacity":1,"xOffset":16,"yOffset":15},"encoding":{"x":{"datum":"4-7"},"y":{"datum":0},"color":{"value":"#000"}}},
{"transform":[{"filter":"datum.k=='L'"}],"mark":{"type":"text","font":"Liberation Sans","fontWeight":"bold","fontSize":14,"baseline":"middle","align":"center","xOffset":16,"yOffset":15.5},"encoding":{"x":{"datum":"4-7"},"y":{"datum":0},"text":{"field":"t"},"color":{"value":"#fff"}}}
]},
{"width":198,"height":98,"data":{"name":"d"},"transform":[{"filter":"datum.p=='J'"}],
"encoding":{"x":{"field":"s","type":"nominal","scale":{"domain":["1-1","1-2","1-3","1-4","1-5","1-6","1-7","g1","2-1","2-2","2-3","2-4","2-5","2-6","2-7","g2","4-1","4-2","4-3","4-4","4-5","4-6","4-7"],"paddingInner":0,"paddingOuter":0},"axis":{"values":["1-4","2-4","4-4"],"labelExpr":"datum.value=='1-4'?'1 week':datum.value=='2-4'?'2 weeks':'4 weeks'","title":null}}},
"layer":[
{"transform":[{"filter":"datum.k=='b'"}],"mark":{"type":"bar"},"encoding":{"y":{"field":"m","type":"quantitative","scale":{"domain":[0,40],"nice":false},"axis":{"values":[0,10,20,30,40],"tickCount":12,"format":"d","labelOverlap":false,"labelFontSize":12.5,"title":["IL-6 positive","area ratio(%)"]}},"color":{"field":"g","type":"nominal","scale":{"domain":["5%PI group","2.5%PI group","0.5%PI group","0.05%PI group","0%PI group","F group","C group"],"range":["#E8282E","#F26C36","#1A7B3A","#2848A0","#6B1D6D","#D0177A","#5D6164"]},"legend":null}}},
{"transform":[{"filter":"datum.k=='b'"}],"mark":{"type":"rule","strokeWidth":1.5},"encoding":{"y":{"field":"m","type":"quantitative"},"y2":{"field":"e"},"color":{"field":"g","type":"nominal","legend":null}}},
{"transform":[{"filter":"datum.k=='b'"}],"mark":{"type":"tick","thickness":1.5,"size":5},"encoding":{"y":{"field":"e","type":"quantitative"},"color":{"field":"g","type":"nominal","legend":null}}},
{"transform":[{"filter":"datum.k=='v'"}],"mark":{"type":"rule","strokeWidth":1.5},"encoding":{"y":{"field":"m","type":"quantitative"},"y2":{"field":"e"},"color":{"value":"#000"}}},
{"transform":[{"filter":"datum.k=='h'"}],"mark":{"type":"rule","strokeWidth":1.5},"encoding":{"x2":{"field":"s2"},"y":{"field":"m","type":"quantitative"},"color":{"value":"#000"}}},
{"transform":[{"filter":"datum.k=='sh'"}],"mark":{"type":"text","text":"*","dx":-4,"dy":1.5,"baseline":"alphabetic","fontSize":14,"font":"Liberation Serif"},"encoding":{"y":{"field":"m","type":"quantitative"},"color":{"value":"#333"}}},
{"transform":[{"filter":"datum.k=='sc'"}],"mark":{"type":"text","text":"*","dy":1.5,"baseline":"alphabetic","fontSize":14,"font":"Liberation Serif"},"encoding":{"y":{"field":"m","type":"quantitative"},"color":{"value":"#333"}}},
{"transform":[{"filter":"datum.k=='L'"}],"mark":{"type":"point","shape":"circle","filled":true,"stroke":"#999","strokeWidth":1.5,"size":320,"opacity":1,"xOffset":16,"yOffset":17},"encoding":{"x":{"datum":"4-7"},"y":{"datum":0},"color":{"value":"#000"}}},
{"transform":[{"filter":"datum.k=='L'"}],"mark":{"type":"text","font":"Liberation Sans","fontWeight":"bold","fontSize":14,"baseline":"middle","align":"center","xOffset":16,"yOffset":17.5},"encoding":{"x":{"datum":"4-7"},"y":{"datum":0},"text":{"field":"t"},"color":{"value":"#fff"}}}
]}
], "spacing": 50, "bounds": "flush"}
], "spacing": 38, "bounds": "flush"}
],
"spacing": 287,
"bounds": "flush",
"config": {
"view": {"stroke": null},
"font": "Liberation Serif",
"axis": {"grid": false, "domainColor": "#000", "domainWidth": 2, "tickColor": "#000", "tickWidth": 2, "tickSize": 4, "labelFont": "Liberation Serif", "labelFontWeight": "bold", "labelColor": "#000", "labelFontSize": 12, "labelPadding": 2, "labelOverlap": false, "titleFont": "Liberation Serif", "titleFontWeight": "bold", "titleFontSize": 13, "titleColor": "#000", "titlePadding": 3, "titleLineHeight": 13},
"axisX": {"labelFont": "Liberation Serif", "labelFontSize": 14, "labelAngle": 0, "labelPadding": 3, "tickWidth": 1.5},
"legend": {"labelFont": "Liberation Serif"}
}
}
